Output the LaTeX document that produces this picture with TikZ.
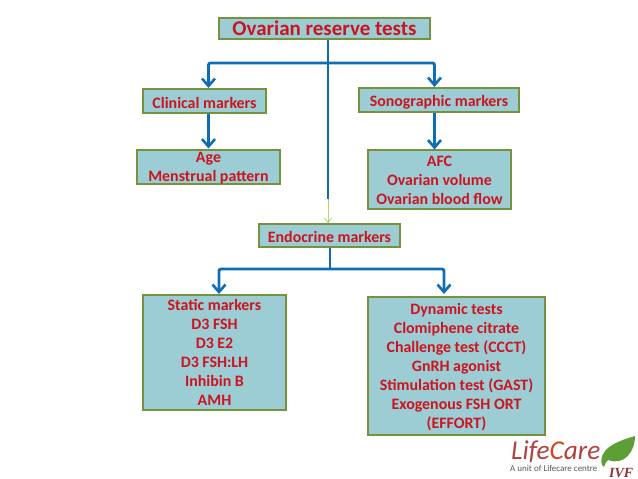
\documentclass[tikz,border=0pt]{standalone}
\usepackage{fontspec}
\setmainfont{Carlito}
\newfontfamily\logoserif{Liberation Serif}
\usetikzlibrary{arrows.meta,positioning,calc}
\definecolor{boxfill}{HTML}{9CCDD4}
\definecolor{boxline}{HTML}{76923C}
\definecolor{labelred}{HTML}{CC1420}
\definecolor{linkblue}{HTML}{0F6DB4}
\definecolor{fadegreen}{HTML}{B5D27A}
\definecolor{logored}{HTML}{B0413E}
\definecolor{swirlred}{HTML}{D8431F}
\definecolor{leafgreen}{HTML}{5E9E36}
\newcommand\leadin[1]{\rule{0pt}{#1}}
\tikzset{
  x=1pt,y=-1pt,
  markerbox/.style={draw=boxline,fill=boxfill,line width=1.3pt,inner sep=0pt,
    text=labelred,align=center,font=\fontsize{15.9}{19}\selectfont\bfseries},
  link/.style={draw=linkblue,line width=2.8pt,rounded corners=2pt},
  arrowlink/.style={link,-{Straight Barb[length=7.5pt,width=13pt,line width=2.6pt]}},
}
\begin{document}
\begin{tikzpicture}
\useasboundingbox[fill=white] (0,0) rectangle (638,479);
\node[markerbox,minimum width=211pt,minimum height=21pt,font=\fontsize{21}{22}\selectfont\bfseries] (top) at (324.5,28.5) {\leadin{15pt}Ovarian reserve tests};
\node[markerbox,minimum width=123pt,minimum height=24pt] (clin) at (204.5,101) {\leadin{15pt}Clinical markers};
\node[markerbox,minimum width=160pt,minimum height=24pt] (sono) at (439,100) {\leadin{15pt}Sonographic markers};
\node[markerbox,minimum width=143pt,minimum height=34pt,text depth=-2.5pt] (age) at (208.5,167) {Age\\Menstrual pattern};
\node[markerbox,minimum width=143pt,minimum height=59pt] (afc) at (439.5,179.5) {\leadin{13pt}AFC\\Ovarian volume\\Ovarian blood flow};
\node[markerbox,minimum width=141pt,minimum height=23pt] (endo) at (329.5,235.5) {\leadin{14pt}Endocrine markers};
\node[markerbox,minimum width=143pt,minimum height=115pt] (static) at (214.5,352.5) {\leadin{11pt}Static markers\\D3 FSH\\D3 E2\\D3 FSH:LH\\Inhibin B\\AMH};
\node[markerbox,minimum width=177pt,minimum height=138pt] (dyn) at (456.5,366) {\leadin{14pt}Dynamic tests\\Clomiphene citrate\\Challenge test (CCCT)\\GnRH agonist\\Stimulation test (GAST)\\Exogenous FSH ORT\\(EFFORT)};
% junctions
\coordinate (hubA) at (328,63);
\coordinate (fadeStart) at (328,199);
\coordinate (clinTop) at (208.5,88);
\coordinate (sonoTop) at (434.5,87);
\coordinate (hubB) at (330,269);
\coordinate (staticTop) at (219,294);
\coordinate (dynTop) at (444,294);
\coordinate (endoTop) at (328,223.6);
\coordinate (topFoot) at (328,39.5);
\coordinate (endoFoot) at (330,247.5);
\coordinate (clinFoot) at (208.5,113.5);
\coordinate (ageTop) at (208.5,148.5);
\coordinate (sonoFoot) at (434.5,112.5);
\coordinate (afcTop) at (434.5,149.5);
% connectors
\draw[fadegreen,line width=0.8pt,-{Straight Barb[length=5pt,width=7pt]}] (fadeStart) -- (endoTop);
\draw[link] (topFoot) -- (fadeStart);
\draw[arrowlink] (hubA) -| (clinTop);
\draw[arrowlink] (hubA) -| (sonoTop);
\draw[arrowlink] (clinFoot) -- (ageTop);
\draw[arrowlink] (sonoFoot) -- (afcTop);
\draw[link] (endoFoot) -- (hubB);
\draw[arrowlink] (hubB) -| (staticTop);
\draw[arrowlink] (hubB) -| (dynTop);
% logo
\fill[leafgreen] (602,465) .. controls (598,450) and (614,442) .. (635,436) .. controls (635,452) and (624,466) .. (608,460) .. controls (606,462) and (605,464) .. (604,467) -- cycle;
\node[anchor=base west,inner sep=0pt,text=logored,font=\fontsize{27.2}{28}\selectfont\itshape,text depth=0pt] (brand) at (511,459) {Life{\color{swirlred}C}are};
\node[anchor=base west,inner sep=0pt,text=black!65,font=\fontsize{9}{10}\selectfont,text height=6pt] (unit) at (510,471) {A unit of Lifecare centre};
\node[anchor=base west,inner sep=0pt,text=logored!80!black,font=\fontsize{14}{14}\selectfont\logoserif\bfseries\itshape] (ivf) at (609,477) {IVF};
\end{tikzpicture}
\end{document}
